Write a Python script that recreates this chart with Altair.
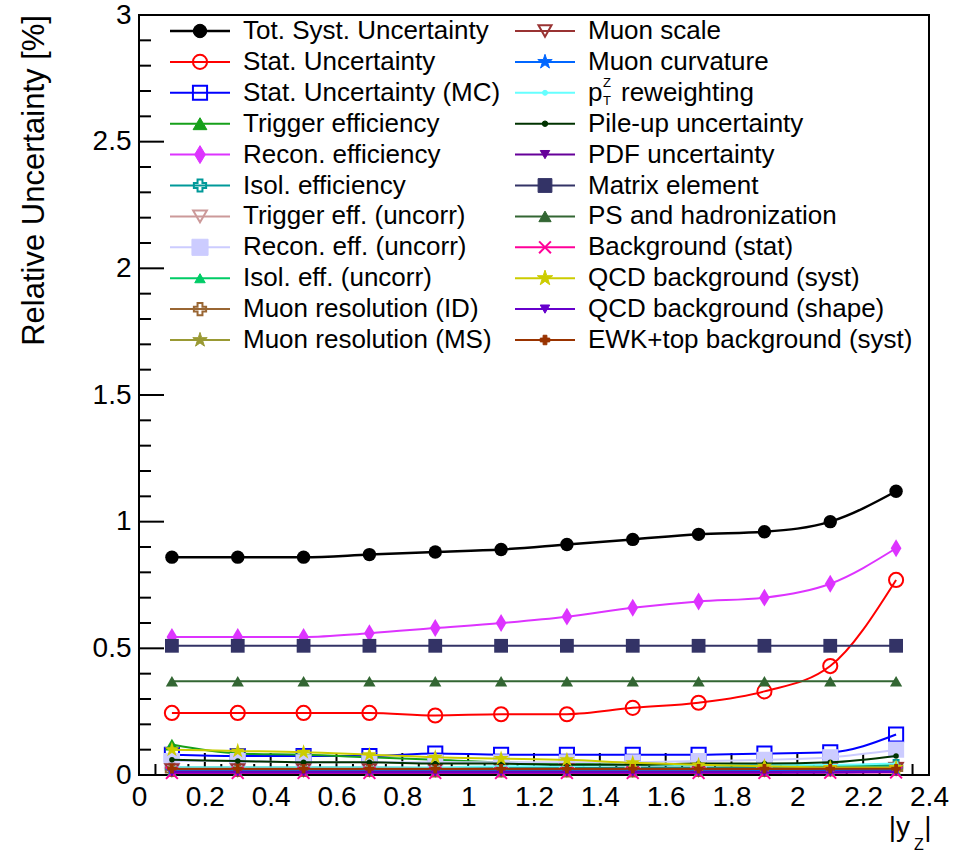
import altair as alt
import pandas as pd

# |y_Z| bin centres
y_z = [0.1, 0.3, 0.5, 0.7, 0.9, 1.1, 1.3, 1.5, 1.7, 1.9, 2.1, 2.3]

# relative uncertainties in %
tot_syst  = [0.86, 0.86, 0.86, 0.87, 0.88, 0.89, 0.91, 0.93, 0.95, 0.96, 1.00, 1.12]
stat      = [0.245, 0.245, 0.245, 0.245, 0.235, 0.24, 0.24, 0.265, 0.285, 0.33, 0.43, 0.77]
stat_mc   = [0.08, 0.075, 0.075, 0.075, 0.085, 0.08, 0.08, 0.08, 0.08, 0.085, 0.09, 0.16]
trig_eff  = [0.12, 0.085, 0.08, 0.07, 0.06, 0.05, 0.045, 0.04, 0.04, 0.035, 0.035, 0.04]
recon_eff = [0.545, 0.545, 0.545, 0.56, 0.58, 0.60, 0.625, 0.66, 0.685, 0.70, 0.755, 0.895]
isol_eff  = [0.03, 0.03, 0.03, 0.03, 0.028, 0.028, 0.028, 0.03, 0.03, 0.03, 0.032, 0.035]
trig_unc  = [0.02, 0.02, 0.02, 0.02, 0.02, 0.02, 0.02, 0.02, 0.02, 0.022, 0.022, 0.025]
recon_unc = [0.055, 0.055, 0.05, 0.05, 0.05, 0.05, 0.05, 0.05, 0.055, 0.06, 0.07, 0.10]
isol_unc  = [0.012, 0.012, 0.012, 0.012, 0.012, 0.012, 0.012, 0.012, 0.012, 0.013, 0.014, 0.015]
mres_id   = [0.02, 0.02, 0.02, 0.02, 0.018, 0.018, 0.018, 0.018, 0.02, 0.02, 0.022, 0.025]
mres_ms   = [0.018, 0.018, 0.018, 0.018, 0.016, 0.016, 0.016, 0.016, 0.018, 0.018, 0.02, 0.022]
mscale    = [0.02, 0.02, 0.02, 0.02, 0.02, 0.02, 0.02, 0.02, 0.02, 0.02, 0.022, 0.025]
mcurv     = [0.015, 0.015, 0.015, 0.015, 0.015, 0.015, 0.015, 0.015, 0.015, 0.016, 0.018, 0.02]
pt_rew    = [0.03, 0.03, 0.03, 0.03, 0.03, 0.035, 0.035, 0.04, 0.04, 0.04, 0.04, 0.045]
pileup    = [0.06, 0.055, 0.05, 0.05, 0.045, 0.045, 0.04, 0.04, 0.045, 0.045, 0.05, 0.075]
pdf_unc   = [0.012, 0.012, 0.012, 0.012, 0.012, 0.012, 0.012, 0.012, 0.012, 0.012, 0.013, 0.014]
matrix_el = [0.51, 0.51, 0.51, 0.51, 0.51, 0.51, 0.51, 0.51, 0.51, 0.51, 0.51, 0.51]
ps_had    = [0.37, 0.37, 0.37, 0.37, 0.37, 0.37, 0.37, 0.37, 0.37, 0.37, 0.37, 0.37]
bkg_stat  = [0.008, 0.008, 0.008, 0.008, 0.008, 0.008, 0.008, 0.008, 0.008, 0.008, 0.009, 0.01]
qcd_syst  = [0.10, 0.095, 0.09, 0.08, 0.07, 0.065, 0.06, 0.048, 0.04, 0.035, 0.03, 0.03]
qcd_shape = [0.01, 0.01, 0.01, 0.01, 0.01, 0.01, 0.01, 0.01, 0.01, 0.01, 0.01, 0.012]
ewk_top   = [0.025, 0.025, 0.025, 0.025, 0.025, 0.025, 0.025, 0.025, 0.025, 0.025, 0.025, 0.025]

labels = [
    "Tot. Syst. Uncertainty", "Stat. Uncertainty", "Stat. Uncertainty (MC)",
    "Trigger efficiency", "Recon. efficiency", "Isol. efficiency",
    "Trigger eff. (uncorr)", "Recon. eff. (uncorr)", "Isol. eff. (uncorr)",
    "Muon resolution (ID)", "Muon resolution (MS)",
    "Muon scale", "Muon curvature", "pT reweighting", "Pile-up uncertainty",
    "PDF uncertainty", "Matrix element", "PS and hadronization",
    "Background (stat)", "QCD background (syst)", "QCD background (shape)",
    "EWK+top background (syst)",
]
values = [
    tot_syst, stat, stat_mc, trig_eff, recon_eff, isol_eff, trig_unc, recon_unc,
    isol_unc, mres_id, mres_ms, mscale, mcurv, pt_rew, pileup, pdf_unc,
    matrix_el, ps_had, bkg_stat, qcd_syst, qcd_shape, ewk_top,
]

# marker glyphs
STAR = ("M0,-1L0.2245,-0.309L0.951,-0.309L0.363,0.118L0.588,0.809L0,0.382"
        "L-0.588,0.809L-0.363,0.118L-0.951,-0.309L-0.2245,-0.309Z")
THIN_DIAMOND = "M0,-1L0.6,0L0,1L-0.6,0Z"
XMARK = "M-1,-1L1,1M-1,1L1,-1"

# (colour, shape, size, filled, line width)
styles = [
    ("#000000", "circle", 180, True, 2.5),
    ("#ff0000", "circle", 200, False, 2),
    ("#0000ff", "square", 200, False, 2),
    ("#16a01a", "triangle-up", 190, True, 2),
    ("#dd33ff", THIN_DIAMOND, 320, True, 2),
    ("#009999", "cross", 150, False, 2),
    ("#cc9999", "triangle-down", 190, False, 2),
    ("#ccccff", "square", 260, True, 2),
    ("#00cc66", "triangle-up", 110, True, 2),
    ("#996633", "cross", 150, False, 2),
    ("#999933", STAR, 230, True, 2),
    ("#993333", "triangle-down", 170, False, 2),
    ("#0066ff", STAR, 230, True, 2),
    ("#66ffff", "circle", 25, True, 2),
    ("#003300", "circle", 30, True, 2),
    ("#660099", "triangle-down", 90, True, 2),
    ("#333366", "square", 190, True, 2),
    ("#336633", "triangle-up", 150, True, 2),
    ("#ff0099", XMARK, 140, False, 2),
    ("#cccc00", STAR, 260, True, 2),
    ("#6600cc", "triangle-down", 90, True, 2),
    ("#993300", "cross", 90, True, 2),
]

FONT = "Liberation Sans"
W, H = 790, 760

xscale = alt.Scale(domain=[0, 2.4], nice=False, zero=False)
yscale = alt.Scale(domain=[0, 3], nice=False, zero=False)

x_axis = alt.Axis(values=[0, 0.2, 0.4, 0.6, 0.8, 1, 1.2, 1.4, 1.6, 1.8, 2, 2.2, 2.4],
                  format="~g", ticks=False, domain=False, grid=False,
                  labelFont=FONT, labelFontSize=28, labelColor="black",
                  labelPadding=8, labelFlush=False, labelOverlap=False, title=None)
y_axis = alt.Axis(values=[0, 0.5, 1, 1.5, 2, 2.5, 3],
                  format="~g", ticks=False, domain=False, grid=False,
                  labelFont=FONT, labelFontSize=28, labelColor="black",
                  labelPadding=8, labelFlush=False, labelOverlap=False, title=None)


def X(field):
    return alt.X(field, scale=xscale, axis=x_axis)


def Y(field):
    return alt.Y(field, scale=yscale, axis=y_axis)


layers = []

# inward ticks along the frame
y_major = [0, 0.5, 1, 1.5, 2, 2.5, 3]
y_minor = [v / 10 for v in range(31) if v % 5 != 0]
x_major = [0, 0.2, 0.4, 0.6, 0.8, 1, 1.2, 1.4, 1.6, 1.8, 2, 2.2, 2.4]
x_minor = [v / 20 for v in range(49) if v % 4 != 0]

for vals, length in ((y_major, 25), (y_minor, 12)):
    layers.append(
        alt.Chart(pd.DataFrame({"v": vals})).mark_rule(color="black", strokeWidth=2).encode(
            y=Y("v:Q"), x=alt.value(0), x2=alt.value(length),
        )
    )
for vals, length in ((x_major, 22), (x_minor, 11)):
    layers.append(
        alt.Chart(pd.DataFrame({"v": vals})).mark_rule(color="black", strokeWidth=2).encode(
            x=X("v:Q"), y=alt.value(H), y2=alt.value(H - length),
        )
    )

# one curve + markers per source
for label, vals, (color, shape, size, filled, lw) in zip(labels, values, styles):
    df = pd.DataFrame({"x": y_z, "y": vals})
    layers.append(
        alt.Chart(df).mark_line(color=color, strokeWidth=lw, interpolate="monotone").encode(
            x=X("x:Q"), y=Y("y:Q"))
    )
    layers.append(
        alt.Chart(df).mark_point(shape=shape, size=size, filled=filled, color=color,
                                 strokeWidth=1 if filled else 2, opacity=1).encode(
            x=X("x:Q"), y=Y("y:Q"))
    )

# legend: two columns of eleven rows
rows = []
for i, (label, (color, shape, size, filled, lw)) in enumerate(zip(labels, styles)):
    col, row = divmod(i, 11)
    y = 16 + 30.9 * row
    x0 = 31 if col == 0 else 376
    rows.append(dict(
        label="p" if label.startswith("pT") else label,
        color=color, shape=shape, size=size,
        fillc=color if filled else "transparent",
        sw=1 if filled else 2, lw=lw,
        lx1=x0, lx2=x0 + 60, mx=x0 + 30, tx=x0 + 73, ly=y,
    ))
leg = pd.DataFrame(rows)

layers.append(
    alt.Chart(leg).mark_rule().encode(
        x=alt.X("lx1:Q", scale=None, axis=None), x2="lx2:Q",
        y=alt.Y("ly:Q", scale=None, axis=None),
        color=alt.Color("color:N", scale=None),
        strokeWidth=alt.StrokeWidth("lw:Q", scale=None),
    )
)
layers.append(
    alt.Chart(leg).mark_point(opacity=1).encode(
        x=alt.X("mx:Q", scale=None, axis=None),
        y=alt.Y("ly:Q", scale=None, axis=None),
        shape=alt.Shape("shape:N", scale=None),
        size=alt.Size("size:Q", scale=None),
        fill=alt.Fill("fillc:N", scale=None),
        stroke=alt.Stroke("color:N", scale=None),
        strokeWidth=alt.StrokeWidth("sw:Q", scale=None),
    )
)
layers.append(
    alt.Chart(leg).mark_text(align="left", baseline="middle", font=FONT, fontSize=26,
                             color="black").encode(
        x=alt.X("tx:Q", scale=None, axis=None),
        y=alt.Y("ly:Q", scale=None, axis=None),
        text="label:N",
    )
)

# sub/superscripts for the p_T^Z entry
pt_row = leg.iloc[13]
pt_parts = pd.DataFrame({
    "t": ["Z", "T", "reweighting"],
    "x": [pt_row.tx + 15, pt_row.tx + 15, pt_row.tx + 33],
    "y": [pt_row.ly - 10, pt_row.ly + 8, pt_row.ly],
    "fs": [13, 13, 26],
})
layers.append(
    alt.Chart(pt_parts).mark_text(align="left", baseline="middle", font=FONT,
                                  color="black").encode(
        x=alt.X("x:Q", scale=None, axis=None),
        y=alt.Y("y:Q", scale=None, axis=None),
        text="t:N",
        size=alt.Size("fs:Q", scale=None),
    )
)

# axis titles
ytitle = pd.DataFrame({"t": ["Relative Uncertainty [%]"]})
layers.append(
    alt.Chart(ytitle).mark_text(angle=270, align="right", baseline="middle", font=FONT,
                                fontSize=31, color="black").encode(
        x=alt.value(-104), y=alt.value(0), text="t:N",
    )
)
xtitle = pd.DataFrame({
    "t": ["|y", "Z", "|"],
    "x": [771, 775, 789],
    "y": [813, 830, 813],
    "fs": [28, 16, 28],
    "al": ["right", "left", "center"],
})
for _, r in xtitle.iterrows():
    layers.append(
        alt.Chart(pd.DataFrame({"t": [r.t]})).mark_text(
            align=r.al, baseline="middle", font=FONT, fontSize=int(r.fs), color="black"
        ).encode(x=alt.value(float(r.x)), y=alt.value(float(r.y)), text="t:N")
    )

chart = alt.layer(*layers).properties(
    width=W, height=H,
    padding={"left": 139, "top": 15, "right": 29, "bottom": 77},
    autosize=alt.AutoSizeParams(type="none"),
    background="white",
).configure_view(stroke="black", strokeWidth=2)

chart.save("out.html", embed_options={"renderer": "svg", "actions": False})
